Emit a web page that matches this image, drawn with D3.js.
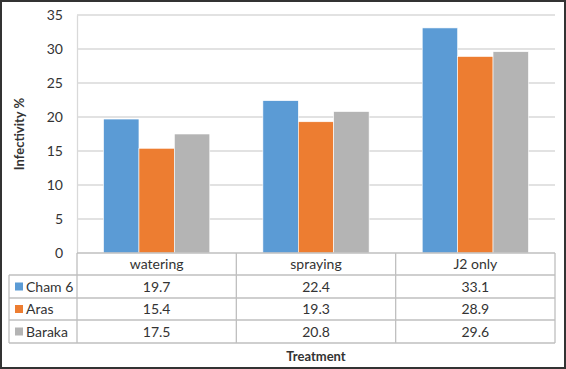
<!DOCTYPE html>
<html>
<head>
<meta charset="utf-8">
<script src="https://cdn.jsdelivr.net/npm/d3@7"></script>
<style>
  body { margin: 0; background: #fff; }
  svg { display: block; font-family: Lato, "Open Sans", sans-serif; }
</style>
</head>
<body>
<div id="chart"></div>
<script>
// data
var categories = ["watering", "spraying", "J2 only"];
var seriesNames = ["Cham 6", "Aras", "Baraka"];
var cham6 = [19.7, 22.4, 33.1];
var aras = [15.4, 19.3, 28.9];
var baraka = [17.5, 20.8, 29.6];
var yTicks = [0, 5, 10, 15, 20, 25, 30, 35];
var colors = ["#5B9BD5", "#ED7D31", "#B4B4B4"];

var series = [cham6, aras, baraka];

var W = 566, H = 369;
var svg = d3.select("#chart").append("svg")
  .attr("width", W).attr("height", H);

// outer frame
svg.append("rect")
  .attr("x", 1).attr("y", 1).attr("width", W - 2).attr("height", H - 2)
  .attr("fill", "#fff").attr("stroke", "#333").attr("stroke-width", 2);

var plot = {left: 77, right: 555, top: 15, bottom: 253};

var x = d3.scaleBand()
  .domain(categories)
  .range([plot.left, plot.right]);

var xInner = d3.scaleBand()
  .domain(d3.range(seriesNames.length))
  .range([0, x.bandwidth()])
  .paddingInner(0)
  .paddingOuter(0.75);

var y = d3.scaleLinear()
  .domain([0, 35])
  .range([plot.bottom, plot.top]);

// gridlines
svg.append("g").selectAll("line")
  .data(yTicks.filter(function(d) { return d > 0; }))
  .enter().append("line")
    .attr("x1", plot.left).attr("x2", plot.right)
    .attr("y1", function(d) { return y(d); })
    .attr("y2", function(d) { return y(d); })
    .attr("stroke", "#d9d9d9").attr("stroke-width", 1.3);

// y axis
var yAxis = svg.append("g")
  .attr("transform", "translate(" + plot.left + ",0)")
  .call(d3.axisLeft(y).tickValues(yTicks).tickSize(0).tickPadding(14));
yAxis.select(".domain").attr("stroke", "#d9d9d9").attr("stroke-width", 1.3);
yAxis.selectAll("text")
  .attr("font-family", "Lato, sans-serif")
  .attr("font-size", 14)
  .attr("fill", "#333");

// bars
var groups = svg.append("g").selectAll("g")
  .data(categories)
  .enter().append("g")
    .attr("transform", function(d) { return "translate(" + x(d) + ",0)"; });

groups.selectAll("rect")
  .data(function(d, i) { return series.map(function(s, k) { return {k: k, v: s[i]}; }); })
  .enter().append("rect")
    .attr("x", function(d) { return xInner(d.k); })
    .attr("width", xInner.bandwidth())
    .attr("y", function(d) { return y(d.v); })
    .attr("height", function(d) { return y(0) - y(d.v); })
    .attr("fill", function(d) { return colors[d.k]; })
    .attr("stroke", "#fff").attr("stroke-width", 0.6);

// data table
var rowY = [253, 275, 298, 320, 343];
var tableLeft = 9;
var lineColor = "#bfbfbf";
var tbl = svg.append("g");

// horizontal lines
tbl.append("line")
  .attr("x1", plot.left).attr("x2", plot.right)
  .attr("y1", rowY[0]).attr("y2", rowY[0])
  .attr("stroke", lineColor).attr("stroke-width", 1.3);
rowY.slice(1).forEach(function(yy) {
  tbl.append("line")
    .attr("x1", tableLeft).attr("x2", plot.right)
    .attr("y1", yy).attr("y2", yy)
    .attr("stroke", lineColor).attr("stroke-width", 1.3);
});
// vertical lines
tbl.append("line")
  .attr("x1", tableLeft).attr("x2", tableLeft)
  .attr("y1", rowY[1]).attr("y2", rowY[4])
  .attr("stroke", lineColor).attr("stroke-width", 1.3);
categories.forEach(function(c) {
  tbl.append("line")
    .attr("x1", x(c)).attr("x2", x(c))
    .attr("y1", rowY[0]).attr("y2", rowY[4])
    .attr("stroke", lineColor).attr("stroke-width", 1.3);
});
tbl.append("line")
  .attr("x1", plot.right).attr("x2", plot.right)
  .attr("y1", rowY[0]).attr("y2", rowY[4])
  .attr("stroke", lineColor).attr("stroke-width", 1.3);

// category labels
tbl.selectAll(".cat")
  .data(categories)
  .enter().append("text")
    .attr("x", function(d) { return x(d) + x.bandwidth() / 2; })
    .attr("y", (rowY[0] + rowY[1]) / 2 + 5)
    .attr("text-anchor", "middle")
    .attr("font-size", 14)
    .attr("fill", "#333")
    .text(function(d) { return d; });

// legend cells + values
seriesNames.forEach(function(name, k) {
  var cy = (rowY[k + 1] + rowY[k + 2]) / 2;
  tbl.append("rect")
    .attr("x", 15).attr("y", cy - 4)
    .attr("width", 8).attr("height", 8)
    .attr("fill", colors[k]);
  tbl.append("text")
    .attr("x", 26).attr("y", cy + 5)
    .attr("font-size", 14)
    .attr("fill", "#333")
    .text(name);
  categories.forEach(function(c, i) {
    tbl.append("text")
      .attr("x", x(c) + x.bandwidth() / 2)
      .attr("y", cy + 5)
      .attr("text-anchor", "middle")
      .attr("font-size", 14)
      .attr("fill", "#333")
      .text(series[k][i].toFixed(1));
  });
});

// axis titles
svg.append("text")
  .attr("transform", "translate(24," + ((plot.top + plot.bottom) / 2) + ")rotate(-90)")
  .attr("text-anchor", "middle")
  .attr("font-size", 13)
  .attr("font-weight", "bold")
  .attr("fill", "#333")
  .text("Infectivity %");

svg.append("text")
  .attr("x", (plot.left + plot.right) / 2)
  .attr("y", 361)
  .attr("text-anchor", "middle")
  .attr("font-size", 13)
  .attr("font-weight", "bold")
  .attr("fill", "#333")
  .text("Treatment");
</script>
</body>
</html>
